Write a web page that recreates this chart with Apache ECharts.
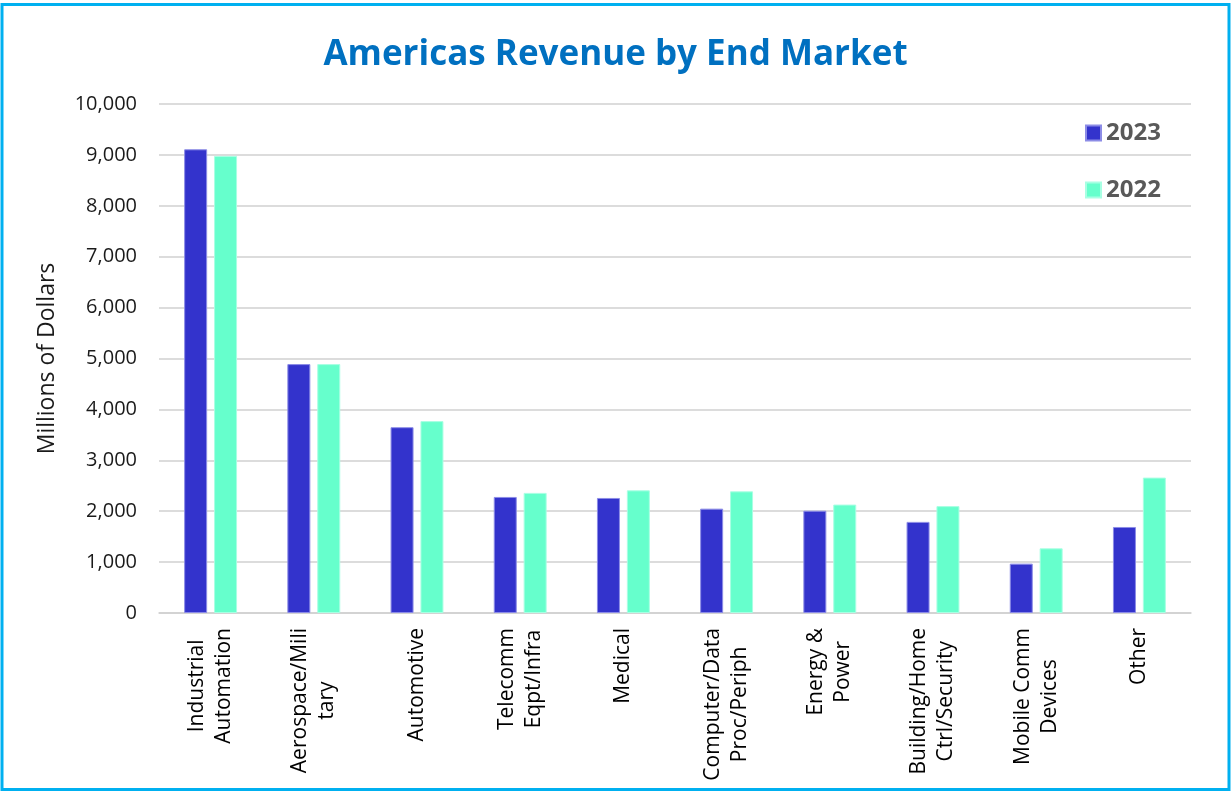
<!DOCTYPE html>
<html>
<head>
<meta charset="utf-8">
<script src="https://cdn.jsdelivr.net/npm/echarts@6/dist/echarts.min.js"></script>
<style>
  html, body { margin: 0; padding: 0; background: #fff; }
  #main { width: 1231px; height: 791px; }
</style>
</head>
<body>
<div id="main"></div>
<script>
// 数据
var categories = [
    'Industrial\nAutomation', 'Aerospace/Mili\ntary', 'Automotive', 'Telecomm\nEqpt/Infra',
    'Medical', 'Computer/Data\nProc/Periph', 'Energy &\nPower', 'Building/Home\nCtrl/Security',
    'Mobile Comm\nDevices', 'Other'
];
var values2023 = [9110, 4890, 3650, 2280, 2260, 2050, 2010, 1790, 970, 1690];
var values2022 = [8980, 4890, 3770, 2360, 2410, 2390, 2130, 2100, 1270, 2660];
var yTicks = [0, 1000, 2000, 3000, 4000, 5000, 6000, 7000, 8000, 9000, 10000];

(function() {
    var myChart = echarts.init(document.getElementById('main'));
    var option = {
        backgroundColor: '#fff',
        title: {
            text: 'Americas Revenue by End Market',
            left: 'center',
            top: 33,
            textStyle: {
                fontFamily: 'Open Sans',
                fontWeight: 'bold',
                fontSize: 35,
                color: '#0070c0'
            }
        },
        legend: {
            orient: 'vertical',
            left: 1080,
            top: 116,
            itemWidth: 15,
            itemHeight: 15,
            itemGap: 33,
            icon: 'rect',
            textStyle: {
                fontFamily: 'Open Sans',
                fontWeight: 'bold',
                fontSize: 24,
                color: '#595959'
            },
            data: ['2023', '2022']
        },
        grid: {
            left: 159,
            right: 40,
            top: 104,
            bottom: 178
        },
        graphic: [{
            type: 'rect',
            shape: { x: 2, y: 4.5, width: 1227, height: 785 },
            style: { fill: 'none', stroke: '#00b0f0', lineWidth: 3 }
        }],
        xAxis: {
            type: 'category',
            data: categories,
            axisTick: { show: false },
            axisLine: { lineStyle: { color: '#d0d0d0', width: 1.5 } },
            axisLabel: {
                rotate: 90,
                margin: 15,
                interval: 0,
                fontFamily: 'Open Sans',
                fontSize: 21,
                lineHeight: 27,
                color: '#000',
                formatter: function(v) {
                    // 每行居中
                    return v.split('\n').map(function(s) { return '{c|' + s + '}'; }).join('\n');
                },
                rich: {
                    c: { align: 'center', fontFamily: 'Open Sans', fontSize: 21, lineHeight: 27, color: '#000' }
                }
            }
        },
        yAxis: {
            type: 'value',
            min: yTicks[0],
            max: yTicks[yTicks.length - 1],
            interval: 1000,
            name: 'Millions of Dollars',
            nameLocation: 'middle',
            nameGap: 100,
            nameTextStyle: {
                fontFamily: 'Open Sans',
                fontSize: 23,
                color: '#1a1a1a'
            },
            axisLine: { show: false },
            axisTick: { show: false },
            axisLabel: {
                margin: 22,
                fontFamily: 'Open Sans',
                fontSize: 20,
                color: '#1a1a1a',
                formatter: function(v) { return v.toLocaleString('en-US'); }
            },
            splitLine: { lineStyle: { color: '#d0d0d0', width: 1.5 } }
        },
        series: [{
            name: '2023',
            type: 'bar',
            data: values2023,
            barWidth: 23,
            barGap: '30%',
            itemStyle: { color: '#3333cc', borderColor: '#8c8ce6', borderWidth: 1 }
        }, {
            name: '2022',
            type: 'bar',
            data: values2022,
            barWidth: 23,
            itemStyle: { color: '#66ffcc', borderColor: '#a8ffe3', borderWidth: 1 }
        }]
    };
    myChart.setOption(option);
})();
</script>
</body>
</html>
